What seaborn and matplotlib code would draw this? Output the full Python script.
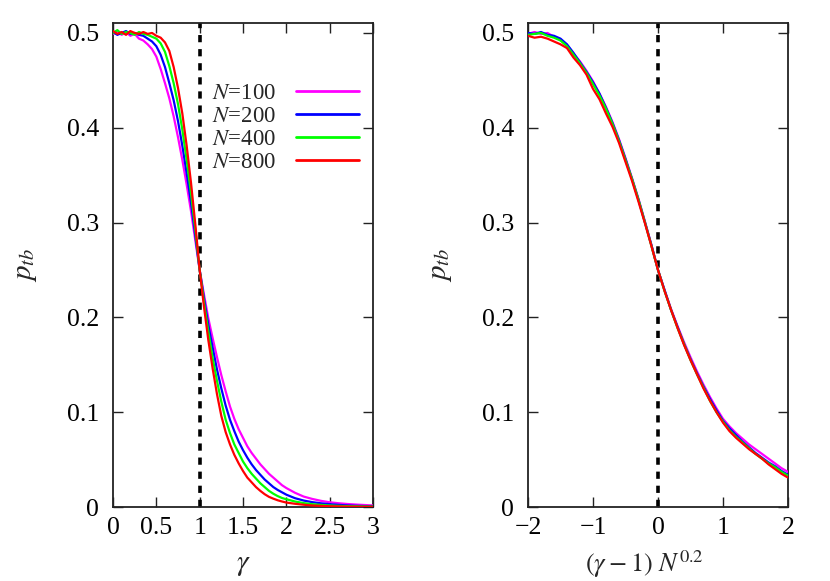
import numpy as np
import pandas as pd
import matplotlib
matplotlib.use("Agg")
import matplotlib.pyplot as plt
import seaborn as sns

# ---------------- data ----------------
sizes = [100, 200, 400, 800]
colors = ["#ff00ff", "#0000ff", "#00ff00", "#ff0000"]
critical_gamma = 1.0
collapse_center = 0.0

gamma = [0.00, 0.05, 0.10, 0.15, 0.20, 0.25, 0.30, 0.35, 0.40, 0.45,
         0.50, 0.55, 0.60, 0.65, 0.70, 0.75, 0.80, 0.85, 0.90, 0.95,
         1.00, 1.05, 1.10, 1.15, 1.20, 1.25, 1.30, 1.35, 1.40, 1.45,
         1.50, 1.55, 1.60, 1.65, 1.70, 1.75, 1.80, 1.85, 1.90, 1.95,
         2.00, 2.10, 2.20, 2.30, 2.40, 2.50, 2.60, 2.70, 2.80, 2.90, 3.00]

p_left_100 = [0.499, 0.502, 0.498, 0.501, 0.497, 0.499, 0.494, 0.492, 0.488, 0.483,
              0.475, 0.462, 0.447, 0.431, 0.412, 0.390, 0.366, 0.340, 0.312, 0.281,
              0.250, 0.224, 0.199, 0.178, 0.158, 0.139, 0.122, 0.106, 0.093, 0.082,
              0.073, 0.064, 0.057, 0.051, 0.045, 0.040, 0.035, 0.031, 0.027, 0.023,
              0.020, 0.015, 0.011, 0.0085, 0.0065, 0.0050, 0.0040, 0.0032, 0.0026, 0.0021, 0.0017]
p_left_200 = [0.501, 0.498, 0.500, 0.502, 0.499, 0.500, 0.498, 0.497, 0.494, 0.491,
              0.486, 0.477, 0.464, 0.447, 0.429, 0.407, 0.381, 0.352, 0.321, 0.286,
              0.250, 0.220, 0.192, 0.168, 0.145, 0.125, 0.107, 0.092, 0.080, 0.069,
              0.060, 0.052, 0.045, 0.039, 0.034, 0.029, 0.025, 0.021, 0.018, 0.0155,
              0.013, 0.0093, 0.0068, 0.0051, 0.0039, 0.0030, 0.0023, 0.0017, 0.0013, 0.0010, 0.0008]
p_left_400 = [0.500, 0.503, 0.499, 0.501, 0.500, 0.498, 0.501, 0.499, 0.498, 0.496,
              0.494, 0.489, 0.480, 0.465, 0.447, 0.425, 0.398, 0.366, 0.331, 0.292,
              0.250, 0.216, 0.185, 0.157, 0.133, 0.111, 0.092, 0.078, 0.066, 0.057,
              0.048, 0.041, 0.035, 0.030, 0.025, 0.021, 0.017, 0.014, 0.0115, 0.0095,
              0.0082, 0.0058, 0.0041, 0.0030, 0.0022, 0.0016, 0.0012, 0.0009, 0.0007, 0.0005, 0.0004]
p_left_800 = [0.502, 0.499, 0.501, 0.498, 0.502, 0.500, 0.499, 0.501, 0.499, 0.500,
              0.497, 0.495, 0.490, 0.481, 0.464, 0.442, 0.415, 0.381, 0.342, 0.298,
              0.250, 0.211, 0.176, 0.146, 0.119, 0.096, 0.079, 0.066, 0.055, 0.046,
              0.038, 0.031, 0.026, 0.021, 0.017, 0.0135, 0.0107, 0.0088, 0.0071, 0.0058,
              0.0047, 0.0034, 0.0024, 0.0016, 0.0012, 0.0008, 0.0006, 0.0004, 0.0003, 0.0002, 0.0002]

scaled_x = [-2.0, -1.9, -1.8, -1.7, -1.6, -1.5, -1.4, -1.3, -1.2, -1.1,
            -1.0, -0.9, -0.8, -0.7, -0.6, -0.5, -0.4, -0.3, -0.2, -0.1,
            0.0, 0.1, 0.2, 0.3, 0.4, 0.5, 0.6, 0.7, 0.8, 0.9,
            1.0, 1.1, 1.2, 1.3, 1.4, 1.5, 1.6, 1.7, 1.8, 1.9, 2.0]

p_right_100 = [0.499, 0.501, 0.499, 0.500, 0.496, 0.493, 0.487, 0.478, 0.470, 0.460,
               0.449, 0.436, 0.422, 0.406, 0.388, 0.368, 0.347, 0.325, 0.301, 0.276,
               0.250, 0.229, 0.209, 0.191, 0.174, 0.158, 0.143, 0.129, 0.116, 0.104,
               0.093, 0.085, 0.078, 0.072, 0.066, 0.061, 0.056, 0.051, 0.046, 0.041, 0.037]
p_right_200 = [0.500, 0.499, 0.501, 0.498, 0.497, 0.494, 0.488, 0.479, 0.469, 0.459,
               0.448, 0.436, 0.421, 0.405, 0.387, 0.367, 0.346, 0.324, 0.300, 0.276,
               0.250, 0.229, 0.208, 0.190, 0.172, 0.156, 0.141, 0.127, 0.114, 0.102,
               0.091, 0.083, 0.076, 0.069, 0.063, 0.057, 0.052, 0.047, 0.043, 0.038, 0.034]
p_right_400 = [0.498, 0.499, 0.500, 0.497, 0.495, 0.492, 0.486, 0.477, 0.468, 0.458,
               0.446, 0.434, 0.420, 0.404, 0.386, 0.366, 0.346, 0.324, 0.300, 0.275,
               0.250, 0.228, 0.208, 0.189, 0.172, 0.155, 0.140, 0.126, 0.112, 0.100,
               0.090, 0.081, 0.074, 0.068, 0.062, 0.056, 0.051, 0.046, 0.042, 0.037, 0.033]
p_right_800 = [0.497, 0.495, 0.496, 0.494, 0.491, 0.488, 0.484, 0.474, 0.466, 0.456,
               0.441, 0.430, 0.415, 0.401, 0.384, 0.364, 0.344, 0.322, 0.299, 0.275,
               0.250, 0.228, 0.208, 0.189, 0.171, 0.155, 0.140, 0.125, 0.112, 0.100,
               0.089, 0.080, 0.073, 0.067, 0.061, 0.056, 0.051, 0.045, 0.040, 0.035, 0.031]

left_ticks = [0, 0.5, 1, 1.5, 2, 2.5, 3]
left_ticklabels = ["0", "0.5", "1", "1.5", "2", "2.5", "3"]
right_ticks = [-2, -1, 0, 1, 2]
right_ticklabels = ["\u22122", "\u22121", "0", "1", "2"]
y_ticks = [0, 0.1, 0.2, 0.3, 0.4, 0.5]
y_ticklabels = ["0", "0.1", "0.2", "0.3", "0.4", "0.5"]

# ---------------- tables ----------------
left_df = pd.concat([
    pd.DataFrame({"x": gamma, "p": vals, "N": n})
    for n, vals in zip(sizes, [p_left_100, p_left_200, p_left_400, p_left_800])
], ignore_index=True)
right_df = pd.concat([
    pd.DataFrame({"x": scaled_x, "p": vals, "N": n})
    for n, vals in zip(sizes, [p_right_100, p_right_200, p_right_400, p_right_800])
], ignore_index=True)

# ---------------- style ----------------
sns.set_style("ticks")
plt.rcParams["font.family"] = ["Liberation Serif", "DejaVu Serif"]
plt.rcParams["mathtext.fontset"] = "stix"
plt.rcParams["axes.linewidth"] = 1.3
plt.rcParams["axes.edgecolor"] = "#222222"

palette = dict(zip(sizes, colors))

fig = plt.figure(figsize=(8.3, 5.81), dpi=100)
ax1 = fig.add_axes([113 / 830, 1 - 507 / 581, 260 / 830, 484 / 581])
ax2 = fig.add_axes([528 / 830, 1 - 507 / 581, 260 / 830, 484 / 581])

for ax, df, xlim, ticks, tlabels, vline in [
    (ax1, left_df, (0, 3), left_ticks, left_ticklabels, critical_gamma),
    (ax2, right_df, (-2, 2), right_ticks, right_ticklabels, collapse_center),
]:
    ax.axvline(vline, color="black", lw=2.6, linestyle=(0, (2.0, 1.9)), zorder=1)
    sns.lineplot(data=df, x="x", y="p", hue="N", palette=palette, ax=ax,
                 estimator=None, sort=False, lw=1.6, legend=False, zorder=3)
    ax.set_xlim(*xlim)
    ax.set_ylim(0, 0.5105)
    ax.set_xticks(ticks)
    ax.set_xticklabels(tlabels)
    ax.set_yticks(y_ticks)
    ax.set_yticklabels(y_ticklabels)
    ax.tick_params(direction="in", length=7, width=1.0, top=True, right=True,
                   labelsize=18.5, pad=10, colors="#222222", labelcolor="black")
    ax.tick_params(axis="x", pad=7)
    ax.set_ylabel(r"$p_{tb}$", fontsize=21, labelpad=20)

ax1.set_xlabel(r"$\gamma$", fontsize=21)
ax1.xaxis.set_label_coords(0.5, -0.093)
ax2.set_xlabel(r"$(\gamma - 1)\ N^{0.2}$", fontsize=19)
ax2.xaxis.set_label_coords(0.447, -0.086)

# legend (gnuplot style: text first, line after)
handles = [plt.Line2D([], [], color=c, lw=2.0) for c in colors]
labels = [rf"$N$={n}" for n in sizes]
ax1.legend(handles, labels, loc="upper left", bbox_to_anchor=(0.344, 0.895),
           frameon=False, markerfirst=False, fontsize=16.5, handlelength=2.75,
           handletextpad=0.9, labelspacing=0.08, borderaxespad=0)

fig.savefig("out.png", dpi=100)
